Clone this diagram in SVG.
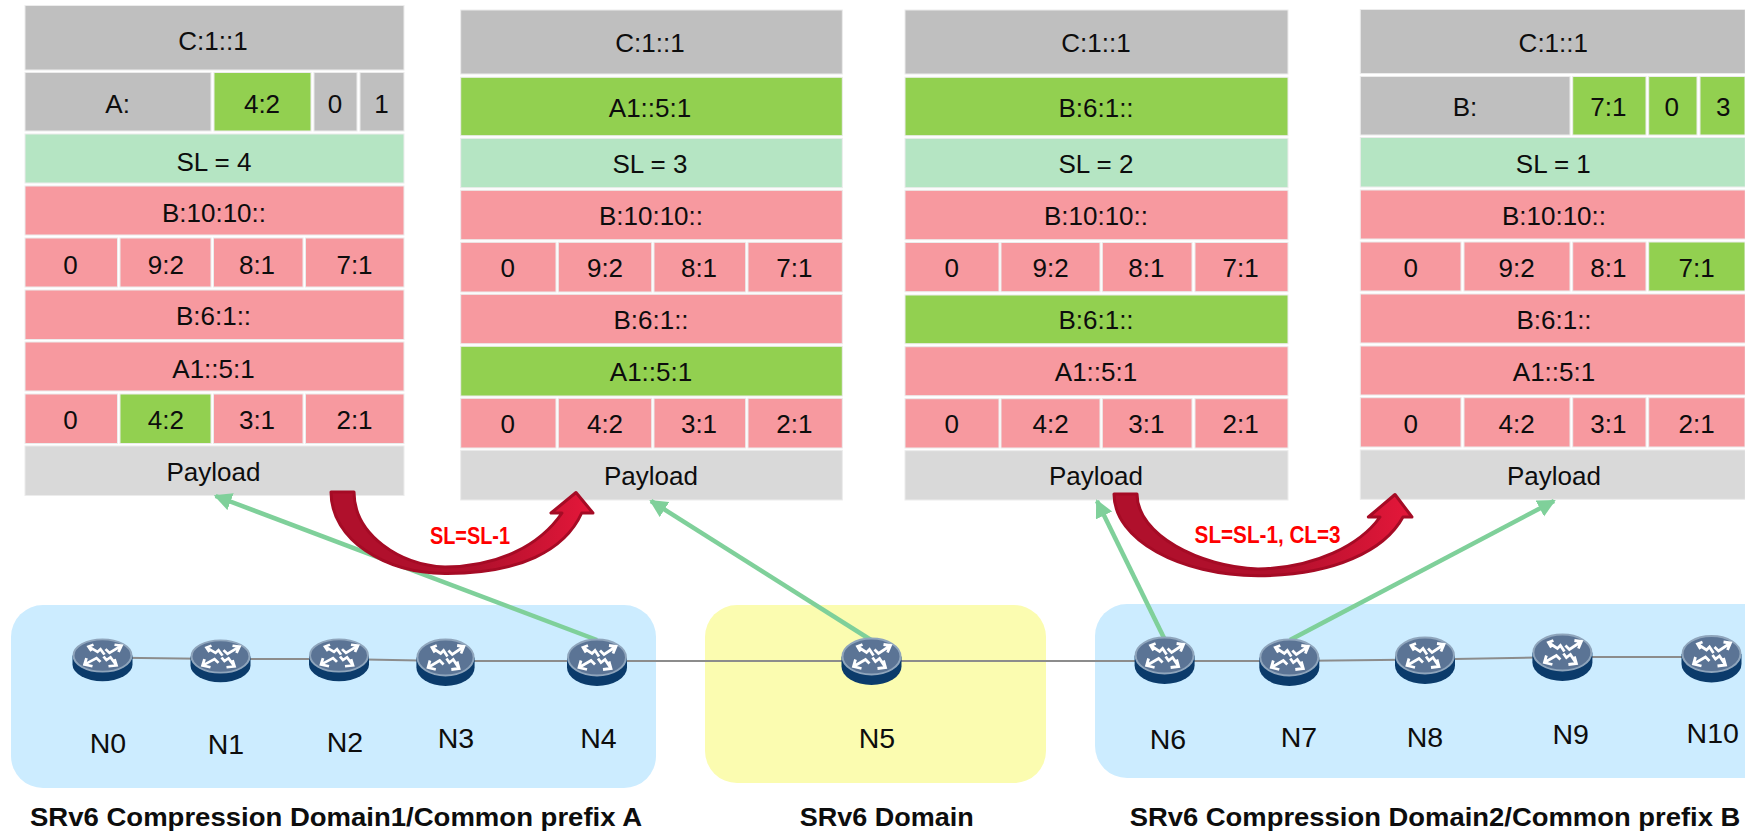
<svg xmlns="http://www.w3.org/2000/svg" width="1745" height="833" viewBox="0 0 1745 833">
<style>
text{font-family:"Liberation Sans",Arial,sans-serif;fill:#0d0d0d;text-anchor:middle}
.c text{font-size:26px}
#table1 text{transform:translateY(1px)}
.g,.gn,.sl,.p,.pl{stroke:#ececec;stroke-width:1}
.g{fill:#bfbfbf}.gn{fill:#92d050}.sl{fill:#b5e5c3}.p{fill:#f7999f}.pl{fill:#d9d9d9}
.n{font-size:28.5px;transform:translateY(1px)}
.t{font-size:26px;font-weight:bold}
.r{font-size:23px;font-weight:bold;fill:#ff0000}
.link{fill:none;stroke:#8c8c8c;stroke-width:2}
.to{fill:none;stroke:#7fd09a;stroke-width:4.5;marker-end:url(#gh)}
.curve{fill:url(#rg);stroke:#a50b25;stroke-width:3;stroke-linejoin:round}
.ic{fill:none;stroke:#fff;stroke-width:2.8;stroke-linejoin:miter}
</style>
<defs>
<marker id="gh" markerUnits="userSpaceOnUse" markerWidth="20" markerHeight="20" refX="16" refY="9" orient="auto"><path d="M0,0L18,9L0,18Z" fill="#7fd09a"/></marker>
<linearGradient id="rg" x1="0" y1="0" x2="1" y2="0"><stop offset="0" stop-color="#b0102c"/><stop offset="0.55" stop-color="#b0102c"/><stop offset="1" stop-color="#e5173a"/></linearGradient>
<g id="rt">
<path d="M-30,0V10A30,18.5 0 0 0 30,10V0Z" fill="#0b3b6b"/>
<ellipse cx="0" cy="0" rx="29" ry="18" fill="#5b7495" stroke="#8fa5bc" stroke-width="2"/>
<path class="ic" d="M-9,-12L-14,-10L-11,-5M-14,-10L-5,-4L-2,-7L2,-1"/>
<path class="ic" d="M12,-12L19,-11L16,-4M19,-11L7,-3L3,-7"/>
<path class="ic" d="M-16,3L-18,10L-10,12M-18,10L-6,3L-2,7"/>
<path class="ic" d="M6,12L14,11L12,4M14,11L8,2L4,5L1,1"/>
</g>
</defs>

<g id="domains">
<rect id="domain1" x="11" y="605" width="645" height="183" rx="32" ry="32" fill="#ccecff"/>
<rect id="domain-srv6" x="705" y="605" width="341" height="178" rx="32" ry="32" fill="#fbfcb0"/>
<rect id="domain2" x="1095" y="604" width="680" height="174" rx="32" ry="32" fill="#ccecff"/>
</g>

<g id="table1" class="c">
<rect class="g" x="25" y="5.5" width="379" height="64.5"/><text x="213" y="48.5">C:1::1</text>
<rect class="g" x="25" y="72.5" width="186" height="58.5"/><text x="117.6" y="112">A:</text>
<rect class="gn" x="214" y="72.5" width="97" height="58.5"/><text x="262" y="112">4:2</text>
<rect class="g" x="314" y="72.5" width="43" height="58.5"/><text x="335" y="112">0</text>
<rect class="g" x="360" y="72.5" width="44" height="58.5"/><text x="381.6" y="112">1</text>
<rect class="sl" x="25" y="134" width="379" height="49"/><text x="214" y="170">SL = 4</text>
<rect class="p" x="25" y="186" width="379" height="49"/><text x="214" y="220.7">B:10:10::</text>
<rect class="p" x="25" y="238" width="92.5" height="49"/><text x="70.5" y="272.7">0</text>
<rect class="p" x="120" y="238" width="91" height="49"/><text x="165.8" y="272.7">9:2</text>
<rect class="p" x="213.5" y="238" width="89.5" height="49"/><text x="257" y="272.7">8:1</text>
<rect class="p" x="305.5" y="238" width="98.5" height="49"/><text x="354.5" y="272.7">7:1</text>
<rect class="p" x="25" y="290" width="379" height="49.5"/><text x="213.5" y="324.3">B:6:1::</text>
<rect class="p" x="25" y="342" width="379" height="49"/><text x="213.5" y="376.7">A1::5:1</text>
<rect class="p" x="25" y="394" width="92.5" height="49.5"/><text x="70.5" y="428.3">0</text>
<rect class="gn" x="120" y="394" width="91" height="49.5"/><text x="165.8" y="428.3">4:2</text>
<rect class="p" x="213.5" y="394" width="89.5" height="49.5"/><text x="257" y="428.3">3:1</text>
<rect class="p" x="305.5" y="394" width="98.5" height="49.5"/><text x="354.5" y="428.3">2:1</text>
<rect class="pl" x="25" y="446" width="379" height="49.5"/><text x="213.5" y="480">Payload</text>
</g>

<g id="table2" class="c">
<rect class="g" x="460.7" y="10" width="381.6" height="64"/><text x="650" y="51.7">C:1::1</text>
<rect class="gn" x="460.7" y="77.3" width="381.6" height="58.4"/><text x="650" y="117.3">A1::5:1</text>
<rect class="sl" x="460.7" y="138.3" width="381.6" height="49.4"/><text x="650" y="172.7">SL = 3</text>
<rect class="p" x="460.7" y="190.3" width="381.6" height="49.4"/><text x="651" y="225.3">B:10:10::</text>
<rect class="p" x="460.7" y="242.3" width="95.3" height="49.7"/><text x="507.7" y="276.7">0</text>
<rect class="p" x="558.3" y="242.3" width="93.4" height="49.7"/><text x="605" y="276.7">9:2</text>
<rect class="p" x="654" y="242.3" width="91.7" height="49.7"/><text x="699" y="276.7">8:1</text>
<rect class="p" x="748" y="242.3" width="94.3" height="49.7"/><text x="794.3" y="276.7">7:1</text>
<rect class="p" x="460.7" y="294.3" width="381.6" height="49.4"/><text x="651" y="328.7">B:6:1::</text>
<rect class="gn" x="460.7" y="346.3" width="381.6" height="49.7"/><text x="651" y="380.8">A1::5:1</text>
<rect class="p" x="460.7" y="398.3" width="95.3" height="49.7"/><text x="507.7" y="432.8">0</text>
<rect class="p" x="558.3" y="398.3" width="93.4" height="49.7"/><text x="605" y="432.8">4:2</text>
<rect class="p" x="654" y="398.3" width="91.7" height="49.7"/><text x="699" y="432.8">3:1</text>
<rect class="p" x="748" y="398.3" width="94.3" height="49.7"/><text x="794.3" y="432.8">2:1</text>
<rect class="pl" x="460.7" y="450.3" width="381.6" height="49.7"/><text x="651" y="485">Payload</text>
</g>

<g id="table3" class="c">
<rect class="g" x="905" y="10" width="383" height="64"/><text x="1096" y="51.7">C:1::1</text>
<rect class="gn" x="905" y="77.3" width="383" height="58.4"/><text x="1096" y="117.3">B:6:1::</text>
<rect class="sl" x="905" y="138.3" width="383" height="49.4"/><text x="1096" y="172.7">SL = 2</text>
<rect class="p" x="905" y="190.3" width="383" height="49.4"/><text x="1096" y="225.3">B:10:10::</text>
<rect class="p" x="905" y="242.5" width="94" height="49.2"/><text x="951.7" y="276.7">0</text>
<rect class="p" x="1001" y="242.5" width="99" height="49.2"/><text x="1050.7" y="276.7">9:2</text>
<rect class="p" x="1102.3" y="242.5" width="89.7" height="49.2"/><text x="1146.3" y="276.7">8:1</text>
<rect class="p" x="1195" y="242.5" width="93" height="49.2"/><text x="1240.7" y="276.7">7:1</text>
<rect class="gn" x="905" y="295" width="383" height="48.7"/><text x="1096" y="328.7">B:6:1::</text>
<rect class="p" x="905" y="346.7" width="383" height="49"/><text x="1096" y="380.7">A1::5:1</text>
<rect class="p" x="905" y="398.7" width="94" height="49.3"/><text x="951.7" y="432.7">0</text>
<rect class="p" x="1001" y="398.7" width="99" height="49.3"/><text x="1050.7" y="432.7">4:2</text>
<rect class="p" x="1102.3" y="398.7" width="89.7" height="49.3"/><text x="1146.3" y="432.7">3:1</text>
<rect class="p" x="1195" y="398.7" width="93" height="49.3"/><text x="1240.7" y="432.7">2:1</text>
<rect class="pl" x="905" y="450.7" width="383" height="49.3"/><text x="1096" y="485">Payload</text>
</g>

<g id="table4" class="c">
<rect class="g" x="1360.3" y="9.5" width="385" height="64"/><text x="1553.3" y="51.7">C:1::1</text>
<rect class="g" x="1360.3" y="76.5" width="209.7" height="58.5"/><text x="1465" y="115.7">B:</text>
<rect class="gn" x="1572.7" y="76.5" width="73.3" height="58.5"/><text x="1608.3" y="115.7">7:1</text>
<rect class="gn" x="1648.7" y="76.5" width="48.3" height="58.5"/><text x="1671.7" y="115.7">0</text>
<rect class="gn" x="1700" y="76.5" width="45" height="58.5"/><text x="1723.3" y="115.7">3</text>
<rect class="sl" x="1360.3" y="137.5" width="385" height="49.5"/><text x="1553.3" y="172.7">SL = 1</text>
<rect class="p" x="1360.3" y="190" width="385" height="49"/><text x="1554" y="225">B:10:10::</text>
<rect class="p" x="1360.3" y="242" width="100.7" height="49"/><text x="1410.7" y="276.7">0</text>
<rect class="p" x="1464" y="242" width="106" height="49"/><text x="1516.7" y="276.7">9:2</text>
<rect class="p" x="1572.7" y="242" width="73.3" height="49"/><text x="1608.3" y="276.7">8:1</text>
<rect class="gn" x="1648.7" y="242" width="96.3" height="49"/><text x="1696.7" y="276.7">7:1</text>
<rect class="p" x="1360.3" y="294" width="385" height="49"/><text x="1554" y="329">B:6:1::</text>
<rect class="p" x="1360.3" y="346" width="385" height="49"/><text x="1554" y="381">A1::5:1</text>
<rect class="p" x="1360.3" y="397.7" width="100.7" height="49.3"/><text x="1410.7" y="432.7">0</text>
<rect class="p" x="1464" y="397.7" width="106" height="49.3"/><text x="1516.7" y="432.7">4:2</text>
<rect class="p" x="1572.7" y="397.7" width="73.3" height="49.3"/><text x="1608.3" y="432.7">3:1</text>
<rect class="p" x="1648.7" y="397.7" width="96.3" height="49.3"/><text x="1696.7" y="432.7">2:1</text>
<rect class="pl" x="1360.3" y="450" width="385" height="49.3"/><text x="1554" y="484.7">Payload</text>
</g>

<g id="connectors">
<path class="link" d="M102,657.5L220,659L339,659L446,661L597,661L871,661L1165,661L1289,661L1425,659.5L1562,657L1711,657"/>
<path class="to" d="M597,640L215.6,496"/>
<path class="to" d="M871,640L651,501"/>
<path class="to" d="M1165,640L1097,501"/>
<path class="to" d="M1290,640L1554,501"/>
<path class="curve" d="M331,492C331,540 385,573 445,573.5C520,574 565,550 581.7,513L593,513L576,492.5L551,513L562,513C540,545 500,566 445,567C400,565 354,535 354,492Z"/>
<path class="curve" d="M1114,494C1114,540 1180,575.5 1258,575.7C1335,575.5 1385,550 1403,517L1412,517L1395,494.5L1368.4,517L1380,517C1360,545 1315,568 1258,569C1200,567 1137,535 1137,494Z"/>
</g>

<g id="n0"><use href="#rt" transform="translate(102.5,655.5) scale(1,0.9)"/><text class="n" x="108" y="752">N0</text></g>
<g id="n1"><use href="#rt" transform="translate(220.5,656.5) scale(1,0.9)"/><text class="n" x="226" y="752.7">N1</text></g>
<g id="n2"><use href="#rt" transform="translate(339,655.5) scale(1,0.9)"/><text class="n" x="345" y="750.7">N2</text></g>
<g id="n3"><use href="#rt" transform="translate(445.5,657.5) scale(0.97,1)"/><text class="n" x="456" y="747.3">N3</text></g>
<g id="n4"><use href="#rt" transform="translate(597,657.5)"/><text class="n" x="598.4" y="747.3">N4</text></g>
<g id="n5"><use href="#rt" transform="translate(871.5,656.5)"/><text class="n" x="877" y="747.3">N5</text></g>
<g id="n6"><use href="#rt" transform="translate(1164.6,655.5)"/><text class="n" x="1168" y="747.5">N6</text></g>
<g id="n7"><use href="#rt" transform="translate(1289.3,657.5)"/><text class="n" x="1299" y="746">N7</text></g>
<g id="n8"><use href="#rt" transform="translate(1425,655.5)"/><text class="n" x="1425" y="746">N8</text></g>
<g id="n9"><use href="#rt" transform="translate(1562.4,652.5)"/><text class="n" x="1570.7" y="743.3">N9</text></g>
<g id="n10"><use href="#rt" transform="translate(1711.5,654)"/><text class="n" x="1712.7" y="741.7">N10</text></g>

<g id="labels">
<text class="r" x="470" y="544.3" textLength="80" lengthAdjust="spacingAndGlyphs">SL=SL-1</text>
<text class="r" x="1267.6" y="542.7" textLength="146" lengthAdjust="spacingAndGlyphs">SL=SL-1, CL=3</text>
<text class="t" x="336" y="826" textLength="612" lengthAdjust="spacingAndGlyphs">SRv6 Compression Domain1/Common prefix A</text>
<text class="t" x="886.8" y="826" textLength="174" lengthAdjust="spacingAndGlyphs">SRv6 Domain</text>
<text class="t" x="1435" y="826" textLength="610.7" lengthAdjust="spacingAndGlyphs">SRv6 Compression Domain2/Common prefix B</text>
</g>
</svg>
